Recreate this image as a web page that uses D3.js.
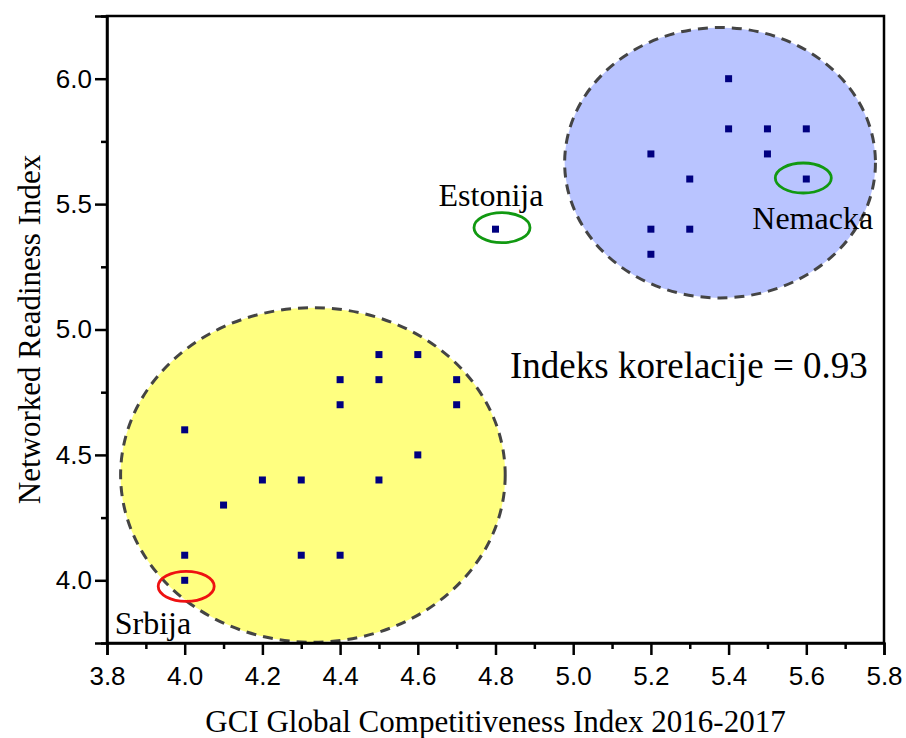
<!DOCTYPE html>
<html>
<head>
<meta charset="utf-8">
<script src="https://cdn.jsdelivr.net/npm/d3@7"></script>
<style>
  body { margin: 0; background: #fff; }
</style>
</head>
<body>
<svg id="chart"></svg>
<script>
// data
const gci = [4.0, 4.0, 4.0, 4.1, 4.2, 4.3, 4.3, 4.4, 4.4, 4.4, 4.5, 4.5, 4.5, 4.6, 4.6, 4.7, 4.7,
  4.8,
  5.2, 5.2, 5.2, 5.3, 5.3, 5.4, 5.4, 5.5, 5.5, 5.6, 5.6];
const nri = [4.6, 4.1, 4.0, 4.3, 4.4, 4.4, 4.1, 4.8, 4.7, 4.1, 4.9, 4.8, 4.4, 4.9, 4.5, 4.8, 4.7,
  5.4,
  5.7, 5.4, 5.3, 5.6, 5.4, 6.0, 5.8, 5.8, 5.7, 5.8, 5.6];
const xTicks = [3.8, 4.0, 4.2, 4.4, 4.6, 4.8, 5.0, 5.2, 5.4, 5.6, 5.8];
const yTicks = [4.0, 4.5, 5.0, 5.5, 6.0];

// group ellipses (center, radii in data units)
const groups = [
  { cx: 4.33, cy: 4.42, rx: 0.495, ry: 0.667, fill: "#ffff80" },
  { cx: 5.378, cy: 5.665, rx: 0.40, ry: 0.539, fill: "#b9c4ff" }
];
// highlighted countries
const highlights = [
  { name: "Srbija", x: 4.0, y: 4.0, color: "#ee1111" },
  { name: "Estonija", x: 4.8, y: 5.4, color: "#119911" },
  { name: "Nemacka", x: 5.6, y: 5.6, color: "#119911" }
];

const width = 906, height = 738;
const margin = { top: 16, right: 22, bottom: 95, left: 107 };

const svg = d3.select("#chart").attr("width", width).attr("height", height);

const x = d3.scaleLinear().domain([3.8, 5.8]).range([margin.left, width - margin.right]);
const y = d3.scaleLinear().domain([3.75, 6.25]).range([height - margin.bottom, margin.top]);

const serif = "'Liberation Serif', 'Times New Roman', serif";
const sans = "'Liberation Sans', Arial, sans-serif";

// ellipses
svg.append("g").selectAll("ellipse")
  .data(groups)
  .enter()
  .append("ellipse")
  .attr("cx", d => x(d.cx))
  .attr("cy", d => y(d.cy))
  .attr("rx", d => x(d.cx + d.rx) - x(d.cx))
  .attr("ry", d => y(d.cy) - y(d.cy + d.ry))
  .attr("fill", d => d.fill)
  .attr("stroke", "#444")
  .attr("stroke-width", 3)
  .attr("stroke-dasharray", "10,7");

// points
const pts = gci.map((g, i) => ({ x: g, y: nri[i] }));
svg.append("g").selectAll("rect")
  .data(pts)
  .enter()
  .append("rect")
  .attr("x", d => x(d.x) - 3.5)
  .attr("y", d => y(d.y) - 3.5)
  .attr("width", 7)
  .attr("height", 7)
  .attr("fill", "#000080");

// ring + label offsets in px, relative to the point
const ringOff = { "Srbija": [1.5, 6], "Estonija": [6.5, -1.5], "Nemacka": [-3, -1] };
const labelOff = { "Srbija": [-70, 54], "Estonija": [-57, -23], "Nemacka": [-54, 50] };

svg.append("g").selectAll("ellipse")
  .data(highlights)
  .enter()
  .append("ellipse")
  .attr("cx", d => x(d.x) + ringOff[d.name][0])
  .attr("cy", d => y(d.y) + ringOff[d.name][1])
  .attr("rx", 28)
  .attr("ry", 15)
  .attr("fill", "none")
  .attr("stroke", d => d.color)
  .attr("stroke-width", 2.8);

svg.append("g").selectAll("text")
  .data(highlights)
  .enter()
  .append("text")
  .attr("x", d => x(d.x) + labelOff[d.name][0])
  .attr("y", d => y(d.y) + labelOff[d.name][1])
  .style("font-family", serif)
  .style("font-size", "32px")
  .attr("fill", "#000")
  .text(d => d.name);

svg.append("text")
  .attr("x", 510)
  .attr("y", 378)
  .style("font-family", serif)
  .style("font-size", "37px")
  .text("Indeks korelacije = 0.93");

// frame
svg.append("rect")
  .attr("x", margin.left)
  .attr("y", margin.top)
  .attr("width", width - margin.right - margin.left)
  .attr("height", height - margin.bottom - margin.top)
  .attr("fill", "none")
  .attr("stroke", "#000")
  .attr("stroke-width", 2.5);

// axes
const xAxis = svg.append("g")
  .attr("transform", `translate(0,${height - margin.bottom})`)
  .call(d3.axisBottom(x).tickValues(xTicks).tickSize(12).tickPadding(12).tickFormat(d3.format(".1f")));
svg.append("g")
  .attr("transform", `translate(0,${height - margin.bottom})`)
  .call(d3.axisBottom(x).tickValues(d3.range(3.9, 5.8, 0.2)).tickSize(6).tickFormat(""))
  .call(g => g.select(".domain").remove())
  .selectAll("line").attr("stroke-width", 2.5);

const yAxis = svg.append("g")
  .attr("transform", `translate(${margin.left},0)`)
  .call(d3.axisLeft(y).tickValues(yTicks).tickSize(12).tickPadding(3).tickFormat(d3.format(".1f")));
svg.append("g")
  .attr("transform", `translate(${margin.left},0)`)
  .call(d3.axisLeft(y).tickValues([3.75, 4.25, 4.75, 5.25, 5.75, 6.25]).tickSize(6).tickFormat(""))
  .call(g => g.select(".domain").remove())
  .selectAll("line").attr("stroke-width", 2.5);

[xAxis, yAxis].forEach(a => {
  a.select(".domain").attr("stroke-width", 2.5);
  a.selectAll("line").attr("stroke-width", 2.5);
  a.selectAll("text")
    .style("font-family", sans)
    .style("font-size", "26px")
    .attr("fill", "#000");
});

// axis titles
svg.append("text")
  .attr("x", (margin.left + width - margin.right) / 2)
  .attr("y", 732)
  .attr("text-anchor", "middle")
  .style("font-family", serif)
  .style("font-size", "31px")
  .text("GCI Global Competitiveness Index 2016-2017");

svg.append("text")
  .attr("transform", "rotate(-90)")
  .attr("x", -y(5.0))
  .attr("y", 40)
  .attr("text-anchor", "middle")
  .style("font-family", serif)
  .style("font-size", "31px")
  .text("Networked Readiness Index");
</script>
</body>
</html>
